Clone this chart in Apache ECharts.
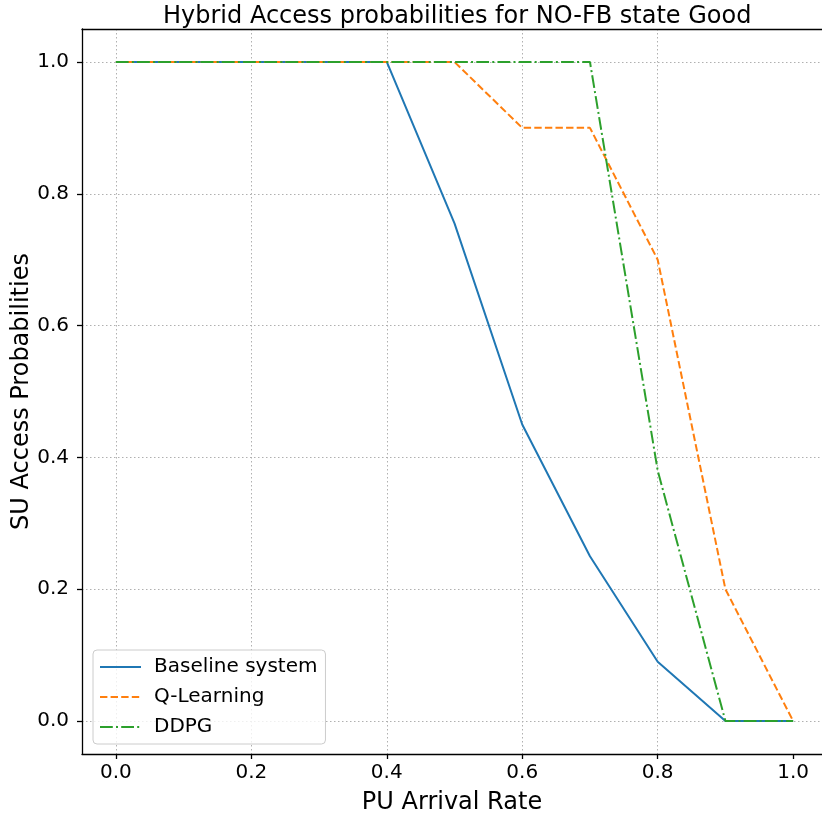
<!DOCTYPE html>
<html>
<head>
<meta charset="utf-8">
<script src="https://cdn.jsdelivr.net/npm/echarts@6/dist/echarts.min.js"></script>
<style>html,body{margin:0;padding:0;background:#fff}#c{width:822px;height:821px}</style>
</head>
<body>
<div id="c"></div>
<script>
const xValues = [0.0, 0.1, 0.2, 0.3, 0.4, 0.5, 0.6, 0.7, 0.8, 0.9, 1.0];
const baseline = [1.0, 1.0, 1.0, 1.0, 1.0, 0.755, 0.45, 0.25, 0.09, 0.0, 0.0];
const qLearning = [1.0, 1.0, 1.0, 1.0, 1.0, 1.0, 0.9, 0.9, 0.7, 0.2, 0.0];
const ddpg = [1.0, 1.0, 1.0, 1.0, 1.0, 1.0, 1.0, 1.0, 0.38, 0.0, 0.0];
const xTicks = [0.0, 0.2, 0.4, 0.6, 0.8, 1.0];
const yTicks = [0.0, 0.2, 0.4, 0.6, 0.8, 1.0];
const seriesNames = ['Baseline system', 'Q-Learning', 'DDPG'];

const FONT = 'DejaVu Sans';
const COLORS = ['#1f77b4', '#ff7f0e', '#2ca02c'];
const DASHES = ['solid', [7.4, 3.2], [12.8, 3.2, 2, 3.2]];
const X_MIN = -0.05, X_MAX = 1.0426;
const pair = arr => xValues.map((x, i) => [x, arr[i]]);

const chart = echarts.init(document.getElementById('c'), null, {renderer: 'canvas'});
const axisCommon = {
  type: 'value',
  nameMoveOverlap: false,
  axisLine: {show: true, onZero: false, lineStyle: {color: '#000', width: 1.3}},
  axisTick: {show: true, length: 5, lineStyle: {color: '#000', width: 1.3}},
  splitLine: {show: true, lineStyle: {color: '#b0b0b0', width: 1, type: [1.5, 2.5]}},
  nameTextStyle: {fontFamily: FONT, fontSize: 24, color: '#000'}
};
chart.setOption({
  animation: false,
  backgroundColor: '#fff',
  title: {
    text: 'Hybrid Access probabilities for NO-FB state Good',
    left: 158, top: 0,
    textStyle: {fontFamily: FONT, fontSize: 24, fontWeight: 'normal', color: '#000'}
  },
  grid: {left: 82, top: 29, right: 0, bottom: 67, show: false, containLabel: false, outerBoundsMode: 'none'},
  xAxis: [
    Object.assign({}, axisCommon, {
      min: X_MIN, max: X_MAX,
      name: 'PU Arrival Rate', nameLocation: 'middle', nameGap: 37,
      axisTick: Object.assign({}, axisCommon.axisTick, {customValues: xTicks}),
      splitLine: Object.assign({}, axisCommon.splitLine, {showMaxLine: false}),
      axisLabel: {customValues: xTicks, formatter: v => v.toFixed(1), fontFamily: FONT, fontSize: 20, color: '#000', margin: 9}
    }),
    {type: 'value', position: 'top', min: X_MIN, max: X_MAX,
     axisLine: {show: true, onZero: false, lineStyle: {color: '#000', width: 1.3}},
     axisTick: {show: false}, axisLabel: {show: false}, splitLine: {show: false}}
  ],
  yAxis: Object.assign({}, axisCommon, {
    min: -0.05, max: 1.05,
    name: 'SU Access Probabilities', nameLocation: 'middle', nameGap: 48,
    axisTick: Object.assign({}, axisCommon.axisTick, {customValues: yTicks}),
    axisLabel: {customValues: yTicks, formatter: v => v.toFixed(1), fontFamily: FONT, fontSize: 20, color: '#000', margin: 13}
  }),
  legend: {
    orient: 'vertical', left: 93, top: 650,
    backgroundColor: 'rgba(255,255,255,0.8)', borderColor: '#cccccc', borderWidth: 1, borderRadius: 4,
    padding: [7, 8, 7, 6],
    itemWidth: 41, itemHeight: 14, itemGap: 10,
    itemStyle: {color: 'rgba(0,0,0,0)', borderWidth: 0, opacity: 0},
    textStyle: {fontFamily: FONT, fontSize: 20, color: '#000', padding: [0, 0, 0, 8]},
    data: seriesNames.map((n, i) => ({name: n, lineStyle: {color: COLORS[i], width: 2, type: DASHES[i]}}))
  },
  series: seriesNames.map((n, i) => ({
    name: n, type: 'line', data: pair([baseline, qLearning, ddpg][i]), symbol: 'none',
    lineStyle: {color: COLORS[i], width: 2, type: DASHES[i]}, itemStyle: {color: COLORS[i]}, z: 3 + i
  }))
});
</script>
</body>
</html>
